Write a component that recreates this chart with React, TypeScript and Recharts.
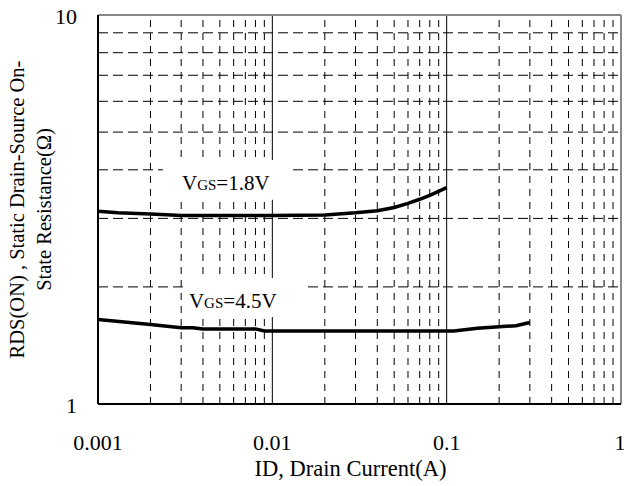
import { Line, LineChart, ReferenceArea, ReferenceLine, XAxis, YAxis } from 'recharts';

const xTicks = [0.001, 0.01, 0.1, 1];
const xTickLabels = ['0.001', '0.01', '0.1', '1'];
const yTicks = [1, 10];
const yTickLabels = ['1', '10'];
const decades = [0.001, 0.01, 0.1];
const minorSteps = [2, 3, 4, 5, 6, 7, 8, 9];
const majorX = [0.01, 0.1];

const id18 = [0.001, 0.0013, 0.002, 0.003, 0.005, 0.01, 0.02, 0.03, 0.04, 0.05, 0.06, 0.07, 0.08, 0.1];
const r18 = [3.13, 3.1, 3.08, 3.05, 3.05, 3.05, 3.06, 3.1, 3.14, 3.2, 3.28, 3.36, 3.44, 3.6];
const id45 = [0.001, 0.002, 0.003, 0.0035, 0.004, 0.008, 0.009, 0.05, 0.11, 0.15, 0.2, 0.25, 0.3];
const r45 = [1.65, 1.6, 1.57, 1.57, 1.56, 1.56, 1.54, 1.54, 1.54, 1.565, 1.58, 1.59, 1.62];

const vgs18 = id18.map((id, i) => ({ id, r: r18[i] }));
const vgs45 = id45.map((id, i) => ({ id, r: r45[i] }));

const minorX = decades.flatMap((d) => minorSteps.map((k) => +(k * d).toPrecision(3)));
const minorY = minorSteps;

const font = 'Liberation Serif, DejaVu Serif, serif';

const XTick = ({ x, y, payload }: any) => (
  <text x={x} y={y + 46} textAnchor="middle" fontFamily={font} fontSize={22} fill="#000">
    {xTickLabels[xTicks.indexOf(payload.value)]}
  </text>
);

const YTick = ({ x, y, payload }: any) => (
  <text x={x - 21} y={y + 9} textAnchor="end" fontFamily={font} fontSize={22} fill="#000">
    {yTickLabels[yTicks.indexOf(payload.value)]}
  </text>
);

const vgsLabel = (value: string, dx: number) => (props: any) => {
  const { x, y } = props.viewBox;
  return (
    <text x={x + dx} y={y + 30} fontFamily={font} fontSize={21} fill="#000">
      V<tspan fontSize={15}>GS</tspan>={value}
    </text>
  );
};

export default function App() {
  return (
    <div style={{ position: 'absolute', left: 0, top: 0, background: '#fff', fontFamily: font }}>
      <LineChart width={624} height={486} margin={{ top: 15, right: 3, bottom: 0, left: 0 }}>
        <XAxis
          dataKey="id"
          type="number"
          scale="log"
          domain={[0.001, 1]}
          ticks={xTicks}
          allowDataOverflow
          height={82}
          tickSize={0}
          tickMargin={0}
          tickLine={false}
          tick={<XTick />}
          axisLine={{ stroke: '#000', strokeWidth: 2 }}
          label={(p: any) => (
            <text
              x={p.viewBox.x + p.viewBox.width / 2 - 9}
              y={p.viewBox.y + 72}
              textAnchor="middle"
              fontFamily={font}
              fontSize={22.5}
              fill="#000"
            >
              ID, Drain Current(A)
            </text>
          )}
        />
        <YAxis
          dataKey="r"
          type="number"
          scale="log"
          domain={[1, 10]}
          ticks={yTicks}
          allowDataOverflow
          width={98}
          tickSize={0}
          tickMargin={0}
          tickLine={false}
          tick={<YTick />}
          axisLine={{ stroke: '#000', strokeWidth: 2 }}
          label={(p: any) => {
            const cy = p.viewBox.y + p.viewBox.height / 2;
            return (
              <g fontFamily={font} fontSize={20.5} fill="#000" textAnchor="middle">
                <text x={17} y={cy} dominantBaseline="central" transform={`rotate(-90 17 ${cy})`}>
                  RDS(ON) , Static Drain-Source On-
                </text>
                <text x={44} y={cy} dominantBaseline="central" transform={`rotate(-90 44 ${cy})`}>
                  State Resistance(Ω)
                </text>
              </g>
            );
          }}
        />
        {minorX.map((v) => (
          <ReferenceLine key={`mx${v}`} x={v} stroke="#000" strokeWidth={1} strokeDasharray="7 6" zIndex={-50} />
        ))}
        {minorY.map((v) => (
          <ReferenceLine key={`my${v}`} y={v} stroke="#000" strokeWidth={1} strokeDasharray="10 5" zIndex={-50} />
        ))}
        {majorX.map((v) => (
          <ReferenceLine key={`jx${v}`} x={v} stroke="#000" strokeWidth={1} zIndex={-50} />
        ))}
        <ReferenceLine y={10} stroke="#888" strokeWidth={2} />
        <ReferenceLine x={1} stroke="#888" strokeWidth={2} />
        <ReferenceArea
          x1={0.00236}
          x2={0.0131}
          y1={3.35}
          y2={4.24}
          fill="#fff"
          fillOpacity={1}
          stroke="none"
          zIndex={450}
          label={vgsLabel('1.8V', 19)}
        />
        <ReferenceArea
          x1={0.00307}
          x2={0.015}
          y1={1.674}
          y2={2.108}
          fill="#fff"
          fillOpacity={1}
          stroke="none"
          zIndex={450}
          label={vgsLabel('4.5V', 6)}
        />
        <Line data={vgs18} dataKey="r" stroke="#000" strokeWidth={3.5} dot={false} isAnimationActive={false} />
        <Line data={vgs45} dataKey="r" stroke="#000" strokeWidth={3.5} dot={false} isAnimationActive={false} />
      </LineChart>
    </div>
  );
}
